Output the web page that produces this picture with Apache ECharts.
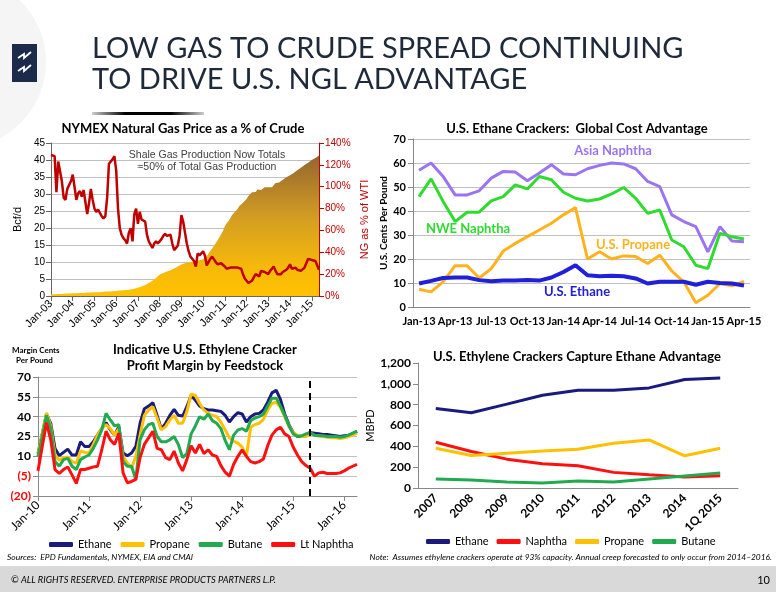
<!DOCTYPE html>
<html><head><meta charset="utf-8">
<script src="https://cdn.jsdelivr.net/npm/echarts@6/dist/echarts.min.js"></script>
<style>html,body{margin:0;padding:0;background:#fff}#c{width:776px;height:600px}</style>
</head><body><div id="c"></div>
<script>
function monthLabels(startYear, count) {
  const M = ['Jan','Feb','Mar','Apr','May','Jun','Jul','Aug','Sep','Oct','Nov','Dec'];
  const out = [];
  for (let i = 0; i < count; i++) {
    const y = startYear + Math.floor(i / 12);
    out.push(M[i % 12] + '-' + String(y % 100).padStart(2, '0'));
  }
  return out;
}

// ---- Chart 1: NYMEX natural gas price as % of crude (Jan-03 .. May-15) ----
const gasMonths = monthLabels(2003, 149);
const shaleGasBcfd = [
  0.5,0.5,0.5,0.5,0.6,0.6,0.6,0.6,0.7,0.7,0.7,0.7,
  0.8,0.8,0.8,0.8,0.9,0.9,0.9,0.9,1.0,1.0,1.0,1.0,
  1.1,1.1,1.1,1.2,1.2,1.2,1.3,1.3,1.3,1.4,1.4,1.4,
  1.5,1.5,1.6,1.6,1.7,1.7,1.8,1.8,1.9,2.0,2.1,2.2,
  2.4,2.6,2.8,3.0,3.2,3.5,3.8,4.1,4.5,4.9,5.3,5.8,
  6.3,6.6,6.8,7.0,7.2,7.4,7.6,7.8,8.1,8.4,8.7,9.0,
  9.3,9.5,9.6,9.8,9.9,10.0,10.1,10.2,10.3,10.4,10.5,10.6,
  10.8,11.2,11.8,12.5,13.3,14.0,14.8,15.6,16.4,17.3,18.2,19.2,
  20.5,21.4,22.0,22.9,23.8,24.3,25.0,25.6,26.5,27.0,27.4,27.9,
  28.5,29.4,29.8,30.5,31.0,30.6,31.3,31.8,31.2,31.7,32.0,31.6,
  32.0,32.3,32.0,32.6,33.2,33.5,33.4,33.9,34.2,34.5,34.9,35.2,
  35.5,35.9,36.2,36.6,37.0,37.3,37.7,38.1,38.5,38.9,39.2,39.6,
  40.0,40.3,40.6,41.0,41.3
];
const ngPctOfWti = [
  129,129,128,95,123,124,105,90,88,98,97,105,
  111,100,88,94,96,91,97,96,75,85,98,88,
  80,77,79,76,73,71,73,90,121,120,125,128,
  115,80,62,56,53,51,48,58,62,50,75,80,
  66,77,70,70,68,56,50,47,44,48,50,48,
  48,52,55,57,55,54,56,48,42,41,46,55,
  74,68,58,48,41,36,35,32,27,39,37,38,
  41,37,28,27,34,36,35,31,29,30,30,29,
  27,25,25,26,26,26,27,26,26,25,20,16,
  14,12,12,14,17,20,19,18,23,23,22,21,
  20,23,25,27,23,20,20,20,22,23,24,26,
  29,25,26,26,24,24,23,24,26,27,34,34,
  33,32,32,32,24
];
const gasLeftTicks = { min: 0, max: 45, interval: 5 };
const gasRightTicks = { min: 0, max: 140, interval: 20 };

// ---- Chart 2: U.S. ethane crackers global cost advantage (Jan-13 .. Apr-15) ----
const costMonths = monthLabels(2013, 28);
const asiaNaphtha = [57,60,54.4,46.7,46.7,48.4,53.7,56.5,56.2,52.6,55.8,59.3,55.4,55.1,57.6,59,60,59.6,57.6,52.3,50.2,38.4,35.6,33.5,23,33.5,27.5,27.2];
const nweNaphtha  = [46,53.4,44,35.6,39.5,39.5,44.2,46,50.9,49.2,54.4,53,47.8,45.3,44.2,45,47.1,49.8,45.3,39,40.4,27.9,25.1,17.4,16,30.7,29.3,28.3];
const usPropane   = [7.4,6.3,10.5,17.2,17.2,12.1,16,23.3,26.5,29.3,32.1,34.9,38.4,41.4,20,23,20,21.3,21,18.1,21.6,15,10.5,1.8,4.9,9.8,8.8,10.7];
const usEthane    = [9.8,10.9,12.1,12.3,12.3,11.2,10.7,11,11,11.3,11,12.3,14.6,17.4,13.2,12.8,13,12.8,11.9,9.8,10.5,10.5,10.5,9.3,10.5,10,9.8,9];

// ---- Chart 3: indicative U.S. ethylene cracker profit margin (Jan-10 .. Apr-16) ----
const marginMonths = monthLabels(2010, 76);
const forecastStart = 'May-15';
const marginEthane = [12,27,42,35,16,10.5,13,15.5,11,11,21,17.5,17.5,21,26,31,35.5,30,26,32.5,12.5,10.5,12.5,17.5,35,46,48,50.5,41,30.5,35,41,45.5,41,40.5,47.5,56,
  52.5,48,46,45,45,44.5,44,41,36,
  40,43,42,36,40,42,42.5,45,51,58,60,53,42,34,28,25,25,26,28,
  27.5,27,26.5,26.5,26,25.5,25,25.5,26,27,29];
const marginPropane = [12,27,43,33,11,7,9,9.5,6,5,14,13,12.5,19,26,31,34,31,26,31,10,5,1,10,26,41,45,47.5,39,30,32.5,37.5,41,35,35,44,57,
  56,50,45,42.5,41,40,36,30,24,
  21.5,20,17,10,32,34,35,38,45,50,51,47,40,33,28,26,25,25,27,
  26,25.5,25,24.5,24,24,23.5,24,25,26,27.5];
const marginButane = [10,25,41,31,6,2.5,7.5,8.5,2.5,0,7.5,9.5,11,16,22.5,30,42.5,37.5,33,34,6,2.5,2.5,-7.5,22.5,30,34,35,25,21,21,22.5,25,19,9,12,27,
  33,40,38,42,37,35,31,22,15,
  26,30,31,29,37,39,40,42,48,54,54,48,41,33,27,25,25.5,27,28,
  26,25.5,25.5,25,25,25,24.5,25,26,27.5,29];
const marginLtNaphtha = [-1,17.5,35.5,22.5,0,-3,0,2,-4,-10.5,0,0,1,2,2.5,15,29,22.5,19,27.5,-2.5,-10,-9,-7.5,9,19,24,29,16,15,9,7.5,14,5,-1,7.5,18,
  12.5,19,12,15,11,10,3,-2,-5,
  4,10,15,10,6,5,6,8,18,26,30,32,27,25,17,11,6,3,1,
  -5,-2.5,-2,-3,-3,-3,-2.5,-1,1,2.5,4];
const marginTicks = { min: -20, max: 70, interval: 15 };

// ---- Chart 4: U.S. ethylene crackers feedstock (MBPD) ----
const crackerPeriods = ['2007','2008','2009','2010','2011','2012','2013','2014','1Q 2015'];
const feedEthane  = [764,722,805,891,939,939,961,1041,1057];
const feedNaphtha = [439,350,277,232,213,150,127,105,118];
const feedPropane = [382,312,334,356,372,430,461,309,382];
const feedButane  = [86,76,57,48,67,57,86,115,143];
const feedTicks = { min: 0, max: 1200, interval: 200 };

// ---- styles ----
const CAL = 'Lato, "Open Sans", sans-serif';
const ARI = '"Liberation Sans", Arial, sans-serif';
const C = { navy:'#1B1B7E', gold:'#FFC000', green:'#22AA50', red:'#FF1010', wti:'#C00000',
            asia:'#9B74F2', nwe:'#2EDB2E', prop:'#FFB21E', eth:'#2020D8', grid:'#C0C0C0', axis:'#888888' };

const chart = echarts.init(document.getElementById('c'));

function lineSeries(name, data, xi, yi, color, width, extra) {
  return Object.assign({ type:'line', name, data, xAxisIndex:xi, yAxisIndex:yi, showSymbol:false, symbol:'none',
    lineStyle:{ color, width }, itemStyle:{ color }, smooth:false, animation:false }, extra || {});
}
const everyJan = (i) => i % 12 === 0;

const option = {
  animation: false,
  backgroundColor: '#ffffff',
  grid: [
    { left: 51, top: 143, width: 268, height: 153 },
    { left: 413, top: 139, width: 337, height: 168 },
    { left: 38, top: 377, width: 319, height: 119 },
    { left: 418, top: 363, width: 320, height: 125 }
  ],
  xAxis: [
    { type:'category', gridIndex:0, data:gasMonths, boundaryGap:false,
      axisLine:{ lineStyle:{ color:'#666' } },
      axisTick:{ interval:everyJan, lineStyle:{ color:'#666' } },
      axisLabel:{ interval:everyJan, rotate:45, fontSize:11, color:'#000', margin:6 } },
    { type:'category', gridIndex:1, data:costMonths, boundaryGap:true,
      axisLine:{ lineStyle:{ color:C.axis } }, axisTick:{ show:false },
      axisLabel:{ interval:2, fontFamily:CAL, fontWeight:'bold', fontSize:11, color:'#000', margin:9 } },
    { type:'category', gridIndex:2, data:marginMonths, boundaryGap:false,
      axisLine:{ onZero:false, lineStyle:{ color:C.axis } },
      axisTick:{ interval:everyJan, lineStyle:{ color:C.axis } },
      axisLabel:{ interval:everyJan, rotate:45, fontFamily:CAL, fontSize:12, color:'#000', margin:7 } },
    { type:'category', gridIndex:3, data:crackerPeriods, boundaryGap:true,
      axisLine:{ lineStyle:{ color:C.axis } }, axisTick:{ lineStyle:{ color:C.axis } },
      axisLabel:{ interval:0, rotate:45, fontFamily:CAL, fontWeight:'bold', fontSize:12, color:'#000', margin:8 } }
  ],
  yAxis: [
    { type:'value', gridIndex:0, min:gasLeftTicks.min, max:gasLeftTicks.max, interval:gasLeftTicks.interval,
      name:'Bcf/d', nameLocation:'middle', nameRotate:90, nameGap:28,
      nameTextStyle:{ fontFamily:ARI, fontSize:11, color:'#000' },
      axisLine:{ show:true, lineStyle:{ color:'#666' } }, axisTick:{ show:true, lineStyle:{ color:'#666' } },
      axisLabel:{ fontFamily:ARI, fontSize:10, color:'#000', margin:6 },
      splitLine:{ lineStyle:{ color:C.grid } } },
    { type:'value', gridIndex:0, position:'right', min:gasRightTicks.min, max:gasRightTicks.max, interval:gasRightTicks.interval,
      name:'NG as % of WTI', nameLocation:'middle', nameRotate:90, nameGap:40,
      nameTextStyle:{ fontFamily:ARI, fontSize:11, color:C.wti },
      axisLine:{ show:true, lineStyle:{ color:C.wti } }, axisTick:{ show:true, lineStyle:{ color:C.wti } },
      axisLabel:{ formatter:'{value}%', fontFamily:ARI, fontSize:10, color:C.wti, margin:6 },
      splitLine:{ show:false } },
    { type:'value', gridIndex:1, min:0, max:70, interval:10,
      name:'U.S. Cents Per Pound', nameLocation:'middle', nameRotate:90, nameGap:24,
      nameTextStyle:{ fontFamily:CAL, fontWeight:'bold', fontSize:10, color:'#000' },
      axisLine:{ show:true, lineStyle:{ color:C.axis } }, axisTick:{ show:true, lineStyle:{ color:C.axis } },
      axisLabel:{ fontFamily:CAL, fontWeight:'bold', fontSize:11, color:'#000', margin:7 },
      splitLine:{ lineStyle:{ color:C.grid } } },
    { type:'value', gridIndex:2, min:marginTicks.min, max:marginTicks.max, interval:marginTicks.interval,
      axisLine:{ show:true, lineStyle:{ color:C.axis } }, axisTick:{ show:true, lineStyle:{ color:C.axis } },
      axisLabel:{ margin:7,
        formatter: v => v < 0 ? '{n|(' + (-v) + ')}' : '{p|' + v + '}',
        rich:{ n:{ color:'#FF0000', fontFamily:CAL, fontWeight:'bold', fontSize:12 },
               p:{ color:'#000', fontFamily:CAL, fontWeight:'bold', fontSize:12 } } },
      splitLine:{ lineStyle:{ color:C.grid } } },
    { type:'value', gridIndex:3, min:feedTicks.min, max:feedTicks.max, interval:feedTicks.interval,
      name:'MBPD', nameLocation:'middle', nameRotate:90, nameGap:37,
      nameTextStyle:{ fontFamily:CAL, fontSize:11, color:'#000' },
      axisLine:{ show:true, lineStyle:{ color:C.axis } }, axisTick:{ show:true, lineStyle:{ color:C.axis } },
      axisLabel:{ formatter: v => v.toLocaleString('en-US'), fontFamily:CAL, fontWeight:'bold', fontSize:12, color:'#000', margin:7 },
      splitLine:{ show:false } }
  ],
  legend: [
    { left:44, top:534, data:['Ethane','Propane','Butane','Lt Naphtha'], icon:'roundRect', itemWidth:24, itemHeight:5, itemGap:9,
      textStyle:{ fontFamily:CAL, fontSize:11, color:'#000' }, selectedMode:false },
    { left:421, top:531, data:['Ethane','Naphtha','Propane','Butane'], icon:'roundRect', itemWidth:24, itemHeight:5, itemGap:8,
      textStyle:{ fontFamily:CAL, fontSize:11, color:'#000' }, selectedMode:false }
  ],
  series: [
    { type:'line', name:'Shale Gas Production', data:shaleGasBcfd, xAxisIndex:0, yAxisIndex:0, showSymbol:false, symbol:'none',
      lineStyle:{ width:0 }, itemStyle:{ color:'#E0A820' },
      areaStyle:{ opacity:1, color: new echarts.graphic.LinearGradient(0,0,0,1,[
        { offset:0, color:'#94652F' }, { offset:0.45, color:'#D49E22' }, { offset:0.8, color:'#F7B90A' }, { offset:1, color:'#FFC200' } ]) } },
    lineSeries('NG as % of WTI', ngPctOfWti, 0, 1, C.wti, 2.5),

    lineSeries('Asia Naphtha', asiaNaphtha, 1, 2, C.asia, 3),
    lineSeries('NWE Naphtha', nweNaphtha, 1, 2, C.nwe, 3),
    lineSeries('U.S. Propane', usPropane, 1, 2, C.prop, 3),
    lineSeries('U.S. Ethane', usEthane, 1, 2, C.eth, 4),

    lineSeries('Ethane', marginEthane, 2, 3, C.navy, 3, {
      markLine:{ silent:true, symbol:'none', label:{ show:false },
        lineStyle:{ color:'#000', type:[7,5], width:2 }, data:[{ xAxis: forecastStart }] } }),
    lineSeries('Propane', marginPropane, 2, 3, C.gold, 3),
    lineSeries('Butane', marginButane, 2, 3, C.green, 3),
    lineSeries('Lt Naphtha', marginLtNaphtha, 2, 3, C.red, 3),

    lineSeries('Ethane', feedEthane, 3, 4, C.navy, 3),
    lineSeries('Naphtha', feedNaphtha, 3, 4, C.red, 3),
    lineSeries('Propane', feedPropane, 3, 4, C.gold, 3),
    lineSeries('Butane', feedButane, 3, 4, C.green, 3)
  ],
  graphic: [
    // header
    { type:'circle', shape:{ cx:-40, cy:62, r:86 }, style:{ fill:'#F5F5F5' }, z:0 },
    { type:'rect', shape:{ x:12, y:44, width:25, height:38 }, style:{ fill:'#1C2B4A' } },
    { type:'polyline', shape:{ points:[[18,58],[24,54],[24,58],[31,52]] }, style:{ stroke:'#fff', lineWidth:1.8, fill:null } },
    { type:'polyline', shape:{ points:[[18,71],[24,67],[24,71],[31,65]] }, style:{ stroke:'#fff', lineWidth:1.8, fill:null } },
    { type:'text', x:92, y:49, style:{ text:'LOW GAS TO CRUDE SPREAD CONTINUING', font:'29px ' + CAL, fill:'#1E2A3A', align:'left', verticalAlign:'middle' } },
    { type:'text', x:92, y:80, style:{ text:'TO DRIVE U.S. NGL ADVANTAGE', font:'29px ' + CAL, fill:'#1E2A3A', align:'left', verticalAlign:'middle' } },
    { type:'rect', shape:{ x:92, y:112, width:112, height:3 }, style:{ fill: new echarts.graphic.LinearGradient(0,0,1,0,[
        { offset:0, color:'rgba(0,0,0,0.2)' }, { offset:0.3, color:'#000' }, { offset:0.7, color:'#000' }, { offset:1, color:'rgba(0,0,0,0.2)' } ]) } },
    // chart titles
    { type:'text', x:183, y:129, style:{ text:'NYMEX Natural Gas Price as a % of Crude', font:'bold 13px ' + CAL, fill:'#000', align:'center', verticalAlign:'middle' } },
    { type:'text', x:577, y:129, style:{ text:'U.S. Ethane Crackers:  Global Cost Advantage', font:'bold 13px ' + CAL, fill:'#000', align:'center', verticalAlign:'middle' } },
    { type:'text', x:205, y:350, style:{ text:'Indicative U.S. Ethylene Cracker', font:'bold 13px ' + CAL, fill:'#000', align:'center', verticalAlign:'middle' } },
    { type:'text', x:205, y:366, style:{ text:'Profit Margin by Feedstock', font:'bold 13px ' + CAL, fill:'#000', align:'center', verticalAlign:'middle' } },
    { type:'text', x:577, y:357, style:{ text:'U.S. Ethylene Crackers Capture Ethane Advantage', font:'bold 13px ' + CAL, fill:'#000', align:'center', verticalAlign:'middle' } },
    // annotations
    { type:'text', x:207, y:155, style:{ text:'Shale Gas Production Now Totals', font:'10.5px ' + ARI, fill:'#404040', align:'center', verticalAlign:'middle' } },
    { type:'text', x:207, y:167, style:{ text:'\u224850% of Total Gas Production', font:'10.5px ' + ARI, fill:'#404040', align:'center', verticalAlign:'middle' } },
    { type:'text', x:613, y:151, style:{ text:'Asia Naphtha', font:'bold 13px ' + CAL, fill:C.asia, align:'center', verticalAlign:'middle' } },
    { type:'text', x:468, y:229, style:{ text:'NWE Naphtha', font:'bold 13px ' + CAL, fill:C.nwe, align:'center', verticalAlign:'middle' } },
    { type:'text', x:633, y:245, style:{ text:'U.S. Propane', font:'bold 13px ' + CAL, fill:C.prop, align:'center', verticalAlign:'middle' } },
    { type:'text', x:577, y:292, style:{ text:'U.S. Ethane', font:'bold 13px ' + CAL, fill:C.eth, align:'center', verticalAlign:'middle' } },
    { type:'text', x:12, y:350, style:{ text:'Margin Cents', font:'bold 8px ' + CAL, fill:'#000', align:'left', verticalAlign:'middle' } },
    { type:'text', x:16, y:360, style:{ text:'Per Pound', font:'bold 8px ' + CAL, fill:'#000', align:'left', verticalAlign:'middle' } },
    // sources / notes
    { type:'text', x:7, y:557, style:{ text:'Sources:  EPD Fundamentals, NYMEX, EIA and CMAI', font:'italic 8.5px ' + CAL, fill:'#000', align:'left', verticalAlign:'middle' } },
    { type:'text', x:772, y:557, style:{ text:'Note:  Assumes ethylene crackers operate at 93% capacity. Annual creep forecasted to only occur from 2014\u20132016.', font:'italic 8.4px ' + CAL, fill:'#000', align:'right', verticalAlign:'middle' } },
    // footer
    { type:'rect', shape:{ x:0, y:566, width:776, height:26 }, style:{ fill:'#D9D9D9' } },
    { type:'text', x:11, y:580, style:{ text:'\u00A9 ALL RIGHTS RESERVED. ENTERPRISE PRODUCTS PARTNERS L.P.', font:'italic 9.3px ' + CAL, fill:'#000', align:'left', verticalAlign:'middle' } },
    { type:'text', x:770, y:580, style:{ text:'10', font:'11px ' + CAL, fill:'#000', align:'right', verticalAlign:'middle' } }
  ]
};
chart.setOption(option);
</script></body></html>
